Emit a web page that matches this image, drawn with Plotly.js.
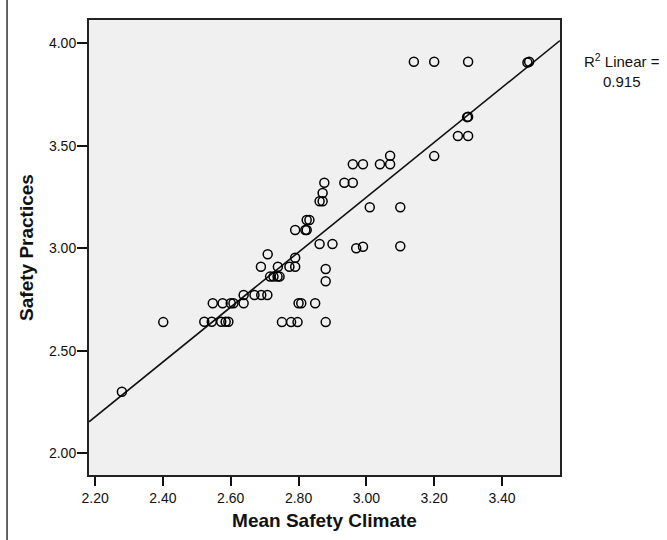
<!DOCTYPE html>
<html>
<head>
<meta charset="utf-8">
<script src="https://cdn.plot.ly/plotly-3.0.1.min.js"></script>
<style>html,body{margin:0;padding:0;background:#fff;}</style>
</head>
<body>
<div id="chart" style="width:667px;height:540px;"></div>
<script>
// Mean Safety Climate (x) and Safety Practices (y) per respondent
const climate = [
  3.14, 3.20, 3.30, 3.475, 3.48,
  3.30, 3.297,
  3.27, 3.30,
  3.20, 3.07,
  2.96, 2.99, 3.04, 3.07,
  2.876, 2.935, 2.96,
  2.871,
  2.862, 2.871,
  3.01, 3.10,
  2.824, 2.832,
  2.79, 2.82, 2.824,
  2.862, 2.90,
  2.97, 2.99, 3.10,
  2.709,
  2.79,
  2.689, 2.739, 2.773, 2.79,
  2.88,
  2.716, 2.726, 2.738, 2.744,
  2.88,
  2.638, 2.67, 2.69, 2.708,
  2.547, 2.576, 2.60, 2.608, 2.638, 2.80, 2.808, 2.849,
  2.401, 2.522, 2.544, 2.572, 2.585, 2.593, 2.751, 2.778, 2.797, 2.88,
  2.279
];
const practices = [
  3.91, 3.91, 3.91, 3.907, 3.91,
  3.642, 3.64,
  3.548, 3.548,
  3.45, 3.452,
  3.41, 3.41, 3.41, 3.41,
  3.32, 3.32, 3.32,
  3.27,
  3.23, 3.23,
  3.20, 3.20,
  3.138, 3.138,
  3.089, 3.089, 3.089,
  3.021, 3.021,
  3.00, 3.008, 3.01,
  2.971,
  2.954,
  2.91, 2.91, 2.91, 2.91,
  2.899,
  2.862, 2.862, 2.862, 2.862,
  2.839,
  2.772, 2.772, 2.772, 2.772,
  2.732, 2.732, 2.732, 2.732, 2.732, 2.732, 2.732, 2.732,
  2.64, 2.642, 2.642, 2.642, 2.642, 2.642, 2.64, 2.64, 2.64, 2.64,
  2.30
];
// Linear fit and its R squared
const fitIntercept = -0.768;
const fitSlope = 1.339;
const r2 = "0.915";
const xRange = [2.182, 3.571];
const yRange = [1.894, 4.114];
const xTicks = [2.2, 2.4, 2.6, 2.8, 3.0, 3.2, 3.4];
const xTickText = ["2.20", "2.40", "2.60", "2.80", "3.00", "3.20", "3.40"];
const yTicks = [2.0, 2.5, 3.0, 3.5, 4.0];
const yTickText = ["2.00", "2.50", "3.00", "3.50", "4.00"];

const fitX = [xRange[0], xRange[1]];
const fitY = fitX.map(v => fitIntercept + fitSlope * v);

const font = "Liberation Sans, Arial, sans-serif";
const traces = [
  {
    x: fitX, y: fitY, type: "scatter", mode: "lines",
    line: {color: "#111", width: 1.6}, hoverinfo: "skip", showlegend: false
  },
  {
    x: climate, y: practices, type: "scatter", mode: "markers",
    marker: {symbol: "circle-open", size: 9, color: "#000", line: {width: 1.5, color: "#000"}},
    showlegend: false
  }
];
const axisCommon = {
  showgrid: false, zeroline: false, showline: true, mirror: true,
  linecolor: "#222", linewidth: 2,
  ticks: "outside", ticklen: 10, tickwidth: 2, tickcolor: "#111",
  tickfont: {family: font, size: 14, color: "#111"}
};
const layout = {
  width: 667, height: 540,
  margin: {l: 89, r: 107, t: 20, b: 65},
  paper_bgcolor: "#fff", plot_bgcolor: "#f0f0f0",
  font: {family: font},
  xaxis: Object.assign({}, axisCommon, {
    range: xRange, tickvals: xTicks, ticktext: xTickText, ticklen: 9,
    title: {text: "Mean Safety Climate", font: {family: font, size: 19, color: "#111", weight: "bold"}, standoff: 9}
  }),
  yaxis: Object.assign({}, axisCommon, {
    range: yRange, tickvals: yTicks, ticktext: yTickText, ticklabelstandoff: -2,
    title: {text: "Safety Practices", font: {family: font, size: 19, color: "#111", weight: "bold"}, standoff: 10}
  }),
  annotations: [{
    xref: "paper", yref: "paper", x: 1.132, y: 0.89,
    xanchor: "center", yanchor: "middle", showarrow: false, align: "center",
    text: "R<sup>2</sup> Linear =<br>" + r2,
    font: {family: font, size: 15, color: "#111"}
  }],
  shapes: [{
    type: "line", xref: "paper", yref: "paper",
    x0: -0.174, x1: -0.174, y0: -0.2, y1: 1.1,
    line: {color: "#333", width: 1.5}
  }]
};
Plotly.newPlot("chart", traces, layout, {displayModeBar: false, staticPlot: true});
</script>
</body>
</html>
